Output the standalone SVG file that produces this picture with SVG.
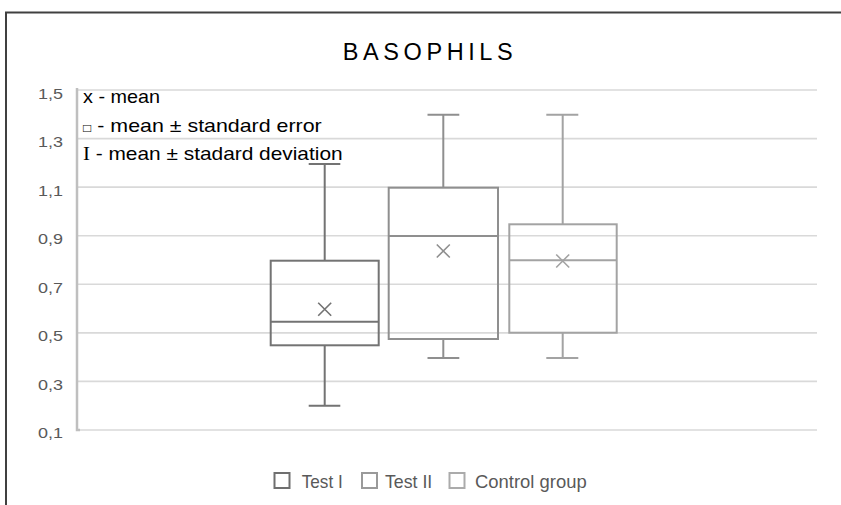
<svg xmlns="http://www.w3.org/2000/svg" width="841" height="505" viewBox="0 0 841 505">
<style>
.grid{stroke:#d9d9d9;stroke-width:1.6;fill:none}
.axis{stroke:#bfbfbf;stroke-width:2.5;fill:none}
.ylab{font-family:"Liberation Sans",Arial,sans-serif;font-size:15.5px;fill:#595959}
.note{font-family:"Liberation Sans",Arial,sans-serif;font-size:18.5px;fill:#000}
.leg{font-family:"Liberation Sans",Arial,sans-serif;font-size:18.5px;fill:#595959}
.t1{stroke:#737373;stroke-width:2;fill:none}
.t2{stroke:#8f8f8f;stroke-width:2;fill:none}
.t3{stroke:#a3a3a3;stroke-width:2;fill:none}
.mk{stroke-width:1.6}
</style>
<rect x="0" y="0" width="841" height="505" fill="#fff"/>
<path d="M6 505 V12.5 H841" stroke="#404040" stroke-width="2" fill="none"/>
<text x="342.7" y="60" textLength="170" lengthAdjust="spacing" font-family="'Liberation Sans',Arial,sans-serif" font-size="23.5" fill="#000">BASOPHILS</text>
<g id="gridlines">
<line class="grid" x1="77" y1="90" x2="817" y2="90"/>
<line class="grid" x1="77" y1="138.6" x2="817" y2="138.6"/>
<line class="grid" x1="77" y1="187.1" x2="817" y2="187.1"/>
<line class="grid" x1="77" y1="235.7" x2="817" y2="235.7"/>
<line class="grid" x1="77" y1="284.3" x2="817" y2="284.3"/>
<line class="grid" x1="77" y1="332.9" x2="817" y2="332.9"/>
<line class="grid" x1="77" y1="381.4" x2="817" y2="381.4"/>
<line class="grid" x1="77" y1="430" x2="817" y2="430"/>
<path class="axis" d="M77 88 V430 H80"/>
</g>
<g id="ylabels">
<text class="ylab" x="38" y="98.5" textLength="25" lengthAdjust="spacingAndGlyphs">1,5</text>
<text class="ylab" x="38" y="147.1" textLength="25" lengthAdjust="spacingAndGlyphs">1,3</text>
<text class="ylab" x="38" y="195.6" textLength="25" lengthAdjust="spacingAndGlyphs">1,1</text>
<text class="ylab" x="38" y="244.2" textLength="25" lengthAdjust="spacingAndGlyphs">0,9</text>
<text class="ylab" x="38" y="292.8" textLength="25" lengthAdjust="spacingAndGlyphs">0,7</text>
<text class="ylab" x="38" y="341.4" textLength="25" lengthAdjust="spacingAndGlyphs">0,5</text>
<text class="ylab" x="38" y="389.9" textLength="25" lengthAdjust="spacingAndGlyphs">0,3</text>
<text class="ylab" x="38" y="438" textLength="25" lengthAdjust="spacingAndGlyphs">0,1</text>
</g>
<g id="notes">
<text class="note" x="83" y="103.3" textLength="77" lengthAdjust="spacingAndGlyphs">x - mean</text>
<text class="note" x="83" y="131.7" textLength="238.7" lengthAdjust="spacingAndGlyphs"><tspan font-size="12">□</tspan> - mean ± standard error</text>
<text class="note" x="83" y="160" textLength="259.6" lengthAdjust="spacingAndGlyphs"><tspan font-family="'Liberation Serif',serif">I</tspan> - mean ± stadard deviation</text>
</g>
<g id="test1">
<path class="t1" d="M324.7 260.7 V164 M308.7 164 H340.3 M324.7 345.3 V405.7 M308.7 405.7 H340.3"/>
<rect class="t1" x="270.7" y="260.7" width="108" height="84.6"/>
<line class="t1" x1="270.7" y1="321.7" x2="378.7" y2="321.7"/>
<path class="t1 mk" d="M318.2 302.8 L331.2 315.8 M331.2 302.8 L318.2 315.8"/>
</g>
<g id="test2">
<path class="t2" d="M443.3 187.7 V114.7 M427.5 114.7 H459.3 M443.3 339 V358 M427.5 358 H459.3"/>
<rect class="t2" x="388.7" y="187.7" width="109.3" height="151.3"/>
<line class="t2" x1="388.7" y1="236" x2="498" y2="236"/>
<path class="t2 mk" d="M436.8 244.5 L449.8 257.5 M449.8 244.5 L436.8 257.5"/>
</g>
<g id="control">
<path class="t3" d="M562.7 224.3 V114.7 M546.3 114.7 H578.3 M562.7 332.7 V358 M546.3 358 H578.3"/>
<rect class="t3" x="509.3" y="224.3" width="107.4" height="108.4"/>
<line class="t3" x1="509.3" y1="260.3" x2="616.7" y2="260.3"/>
<path class="t3 mk" d="M556.2 254.5 L569.2 267.5 M569.2 254.5 L556.2 267.5"/>
</g>
<g id="legend">
<rect x="274.5" y="473" width="15" height="15" fill="#fff" stroke="#6f6f6f" stroke-width="2"/>
<text class="leg" x="301.7" y="487.5" textLength="41" lengthAdjust="spacingAndGlyphs">Test I</text>
<rect x="362" y="473" width="15" height="15" fill="#fff" stroke="#9a9a9a" stroke-width="2"/>
<text class="leg" x="385" y="487.5" textLength="47.3" lengthAdjust="spacingAndGlyphs">Test II</text>
<rect x="449.5" y="473" width="15" height="15" fill="#fff" stroke="#ababab" stroke-width="2"/>
<text class="leg" x="475" y="487.5" textLength="111.7" lengthAdjust="spacingAndGlyphs">Control group</text>
</g>
</svg>
